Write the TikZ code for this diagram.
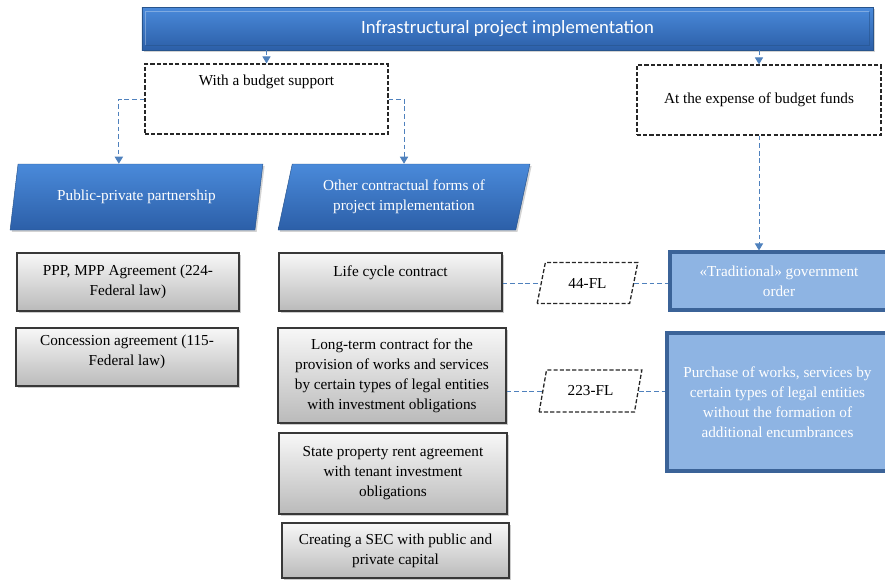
\documentclass[tikz,border=0pt]{standalone}
\usepackage{fontspec}
\setmainfont{Liberation Serif}
\newfontfamily\bannerfont{Carlito}
\usetikzlibrary{shapes.geometric,arrows.meta,shadows}

\definecolor{linkblue}{HTML}{4F81BD}
\definecolor{bartop}{HTML}{4A8ADA}
\definecolor{barbot}{HTML}{2C5FA8}
\definecolor{barline}{HTML}{28548C}
\definecolor{lightfill}{HTML}{8EB4E3}
\definecolor{darkedge}{HTML}{3B6398}

\begin{document}
\begin{tikzpicture}[x=0.03cm,y=-0.03cm,
  font=\fontsize{13}{17}\selectfont,
  link/.style={draw=linkblue,line width=0.8pt,dash pattern=on 4pt off 2.5pt},
  arrowlink/.style={link,-{Triangle[width=7pt,length=6pt]},arrows={[fill=linkblue]}},
  blackdash/.style={draw=black!85,line width=1.1pt,dash pattern=on 3.5pt off 1.8pt},
  bluepara/.style={trapezium,trapezium left angle=75.5,trapezium right angle=104.5,
    trapezium stretches=true,top color=bartop,bottom color=barbot,draw=barline,
    text=white,align=center,drop shadow={opacity=0.35,shadow xshift=1.5pt,shadow yshift=-1.5pt}},
  lawpara/.style={trapezium,trapezium left angle=76,trapezium right angle=104,
    trapezium stretches=true,blackdash,align=center},
  greybox/.style={rectangle,top color=black!3,bottom color=black!27,draw=black!78,
    line width=1pt,align=center,drop shadow={opacity=0.4,shadow xshift=1.5pt,shadow yshift=-1.5pt}},
  bluebox/.style={rectangle,fill=lightfill,draw=darkedge,line width=2.6pt,text=white,align=center}]

  \useasboundingbox (0,0) rectangle (885,579);

  % top
  \node[rectangle,top color=bartop,bottom color=barbot,draw=barline,text=white,
    minimum width=21.93cm,minimum height=1.29cm,font=\bannerfont\fontsize{16}{18}\selectfont,
    drop shadow={opacity=0.35,shadow xshift=1.5pt,shadow yshift=-2pt}]
    (top) at (507.5,28.5) {Infrastructural project implementation};
  % bevel of the bar
  \draw[white,opacity=0.3,line width=1.2pt] ([shift={(4,38)}]top.north west) |- ([shift={(-4,5)}]top.north east);
  \draw[barline,opacity=0.6,line width=1.2pt] ([shift={(4,-5)}]top.south west) -| ([shift={(-4,-38)}]top.south east);

  % sources of funding
  \node[blackdash,minimum width=7.29cm,minimum height=2.1cm,text depth=1.15cm]
    (bud) at (266.5,99) {With a budget support};
  \node[blackdash,minimum width=7.32cm,minimum height=2.1cm]
    (exp) at (759,100) {At the expense of budget funds};

  % forms
  \node[bluepara,minimum width=7.59cm,minimum height=1.98cm]
    (ppp) at (136.5,197) {Public-private partnership};
  \node[bluepara,minimum width=7.56cm,minimum height=1.98cm]
    (oth) at (404,197) {Other contractual forms of\\project implementation};

  % left column
  \node[greybox,minimum width=6.66cm,minimum height=1.74cm]
    (pp1) at (128,282) {PPP, MPP Agreement (224-\\Federal law)};
  \node[greybox,minimum width=6.66cm,minimum height=1.74cm,text depth=0.4cm]
    (pp2) at (127,357) {Concession agreement (115-\\Federal law)};

  % middle column
  \node[greybox,minimum width=6.69cm,minimum height=1.74cm,text depth=0.68cm]
    (lcc) at (390.5,282) {Life cycle contract};
  \node[greybox,minimum width=6.84cm,minimum height=2.85cm]
    (ltc) at (392,375.5) {Long-term contract for the\\provision of works and services\\by certain types of legal entities\\with investment obligations};
  \node[greybox,minimum width=6.84cm,minimum height=2.43cm]
    (spr) at (393,473.5) {State property rent agreement\\with tenant investment\\obligations};
  \node[greybox,minimum width=6.81cm,minimum height=1.65cm]
    (sec) at (395.5,550.5) {Creating a SEC with public and\\private capital};

  % laws
  \node[lawpara,minimum width=3.03cm,minimum height=1.23cm] (fl44) at (587.5,283) {44-FL};
  \node[lawpara,minimum width=3.09cm,minimum height=1.26cm] (fl223) at (590.5,391) {223-FL};

  % right column
  \node[bluebox,minimum width=6.54cm,minimum height=1.74cm]
    (trad) at (779,281) {«Traditional» government\\order};
  \node[bluebox,minimum width=6.63cm,minimum height=4.14cm]
    (pur) at (777.5,402) {Purchase of works, services by\\certain types of legal entities\\without the formation of\\additional encumbrances};

  % connectors
  \draw[arrowlink] (top.south -| bud.north) -- (bud.north);
  \draw[arrowlink] (top.south -| exp.north) -- (exp.north);
  \draw[arrowlink] (bud.west) -| ([xshift=-0.53cm]ppp.north);
  \draw[arrowlink] (bud.east) -| (oth.north);
  \draw[arrowlink] (exp.south) -- (exp.south |- trad.north);
  \draw[link] (fl44.west -| lcc.east) -- (fl44.west);
  \draw[link] (fl44.east) -- (fl44.east -| trad.west);
  \draw[link] (fl223.west -| ltc.east) -- (fl223.west);
  \draw[link] (fl223.east) -- (fl223.east -| pur.west);
\end{tikzpicture}
\end{document}
